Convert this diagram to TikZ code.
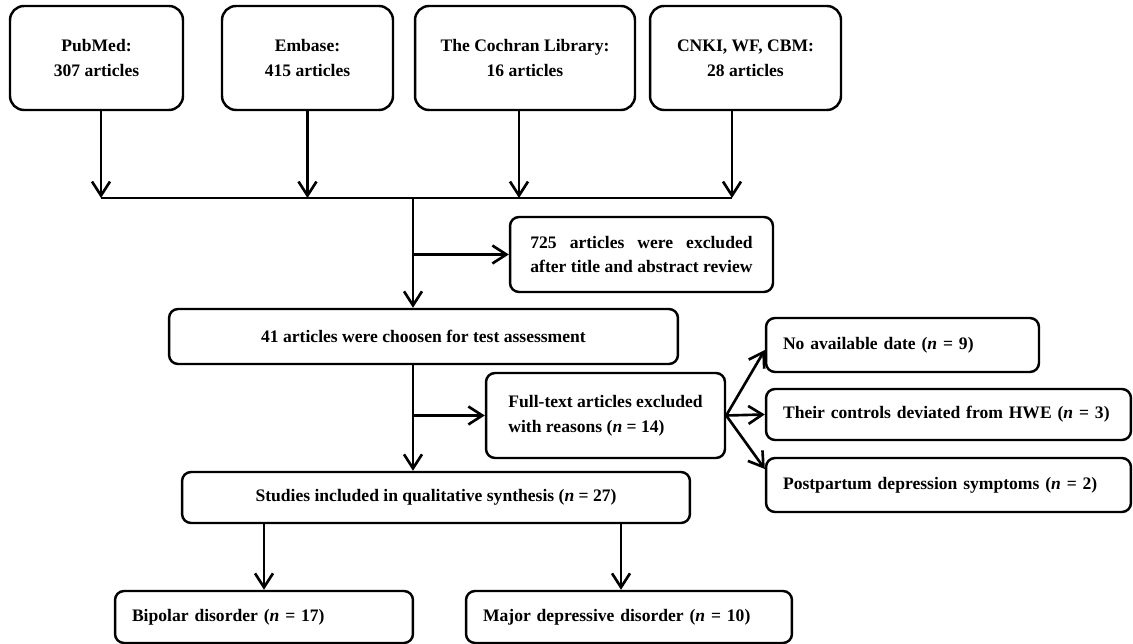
\documentclass[tikz,border=0pt]{standalone}
\usepackage{fontspec}
\setmainfont{Liberation Serif}
\usepackage{tikz}
\usetikzlibrary{arrows.meta}
\newlength\exclwd
\tikzset{
box/.style={draw,line width=1.4pt,rounded corners=0.18cm,font=\fontsize{10}{14}\selectfont\bfseries,align=center,inner sep=0pt},
tbox/.style={box,rounded corners=0.28cm,minimum height=2.08cm},
lbox/.style={box,align=left,inner xsep=0.34cm},
arr/.style={line width=1.5pt,-{Straight Barb[length=0.28cm,width=0.36cm,line width=1.5pt]}},
line/.style={line width=1.5pt}
}

\begin{document}
\begin{tikzpicture}[x=0.02cm,y=-0.02cm]
\useasboundingbox (0,0) rectangle (1133,644);
% databases
\foreach \n/\x/\w/\t in {pubmed/96.5/3.46/{PubMed:\\307 articles},embase/307.5/3.42/{Embase:\\415 articles},
cochran/525/4.40/{The Cochran Library:\\16 articles},cnki/745.5/3.82/{CNKI, WF, CBM:\\28 articles}}{
\node[tbox,minimum width=\w cm] (\n) at (\x,58) {\t};
}
\coordinate (bus) at (413,198);
\foreach \n/\s in {pubmed/0.09,embase/0,cochran/-0.12,cnki/-0.27}
\draw[arr] ([xshift=\s cm]\n.south) -- ([xshift=\s cm]\n.south |- bus);
\draw[line] ([xshift=0.09cm]pubmed.south |- bus) -- ([xshift=-0.27cm]cnki.south |- bus);
% screening
\node[box,minimum width=5.26cm,minimum height=1.5cm] (excl) at (641.5,254.5) {\settowidth{\exclwd}{after title and abstract review}\makebox[\exclwd][s]{725 articles were excluded}\\after title and abstract review};
\node[box,minimum width=10.18cm,minimum height=1.1cm] (choose) at (423.5,336.5) {41 articles were choosen for test assessment};
\node[box,align=left,minimum width=4.78cm,minimum height=1.7cm] (full) at (605.5,415.5) {Full-text articles excluded\\with reasons (\textit{n} = 14)};
% reasons
\node[lbox,text width=4.78cm,minimum height=1.08cm] (nodate) at (902.5,345) {No available date (\textit{n} = 9)};
\node[lbox,text width=6.62cm,minimum height=1.02cm] (hwe) at (948.5,414.5) {Their controls deviated from HWE (\textit{n} = 3)};
\node[lbox,text width=6.62cm,minimum height=1.08cm] (post) at (948.5,485) {Postpartum depression symptoms (\textit{n} = 2)};
% included
\node[box,minimum width=10.16cm,minimum height=1.02cm] (studies) at (436,497.5) {Studies included in qualitative synthesis (\textit{n} = 27)};
\node[lbox,text width=5.28cm,minimum height=1.04cm] (bipolar) at (264,617) {Bipolar disorder (\textit{n} = 17)};
\node[lbox,text width=5.84cm,minimum height=1.04cm] (mdd) at (629,617) {Major depressive disorder (\textit{n} = 10)};

\draw[arr] (bus) -- (bus |- choose.north);
\draw[arr] (bus |- excl.west) -- (excl.west);
\draw[arr] (bus |- choose.south) -- (bus |- studies.north);
\draw[arr] (bus |- full.west) -- (full.west);
\draw[arr] (full.east) -- ([yshift=-0.1cm]nodate.west);
\draw[arr] (full.east) -- (hwe.west);
\draw[arr] (full.east) -- ([yshift=0.32cm]post.west);
\draw[arr] (studies.south -| bipolar) -- (bipolar.north);
\draw[arr] ([xshift=-0.16cm]studies.south -| mdd) -- ([xshift=-0.16cm]mdd.north);
\end{tikzpicture}
\end{document}
